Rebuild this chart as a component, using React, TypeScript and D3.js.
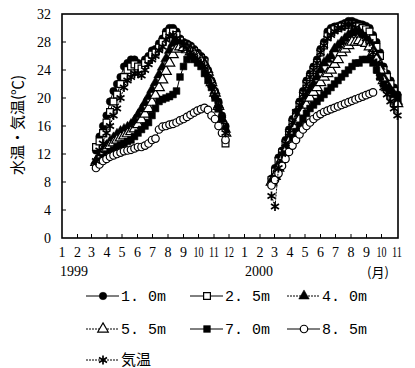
import React, { useEffect, useRef } from 'react'
import * as d3 from 'd3'

// sampling dates (weekly readings)
const dates1999 = [
  '1999-03-10', '1999-03-17', '1999-03-24', '1999-03-31', '1999-04-07', '1999-04-14', '1999-04-21', '1999-04-28',
  '1999-05-05', '1999-05-12', '1999-05-19', '1999-05-26', '1999-06-02', '1999-06-09', '1999-06-16', '1999-06-23',
  '1999-06-30', '1999-07-07', '1999-07-14', '1999-07-21', '1999-07-28', '1999-08-04', '1999-08-11', '1999-08-18',
  '1999-08-25', '1999-09-01', '1999-09-08', '1999-09-15', '1999-09-22', '1999-09-29', '1999-10-06', '1999-10-13',
  '1999-10-20', '1999-10-27', '1999-11-03', '1999-11-10', '1999-11-17', '1999-11-24'
]
const dates2000 = [
  '2000-02-24', '2000-03-02', '2000-03-09', '2000-03-16', '2000-03-23', '2000-03-30', '2000-04-06', '2000-04-13',
  '2000-04-20', '2000-04-27', '2000-05-04', '2000-05-11', '2000-05-18', '2000-05-25', '2000-06-01', '2000-06-08',
  '2000-06-15', '2000-06-22', '2000-06-29', '2000-07-06', '2000-07-13', '2000-07-20', '2000-07-27', '2000-08-03',
  '2000-08-10', '2000-08-17', '2000-08-24', '2000-08-31', '2000-09-07', '2000-09-14', '2000-09-21', '2000-09-28',
  '2000-10-05', '2000-10-12', '2000-10-19', '2000-10-26', '2000-11-02'
]

// water temperature by depth, air temperature (degC)
const w10_1999 = [12.5, 14.5, 16, 17.5, 19.5, 21, 22, 23, 24.5, 25, 25.5, 25.5, 25, 24.8, 25.5, 26, 26.8, 27, 27.8, 28.5,
  29.5, 30, 30, 29.5, 28.5, 28, 27.8, 27.5, 27, 26.5, 26, 25.5, 24, 22.5, 21, 19.5, 17.5, 16]
const w25_1999 = [13, 13.8, 15, 16.5, 18, 19.5, 20.5, 22, 23, 24, 24.5, 24.8, 24.5, 24.2, 25, 25.5, 26.2, 26.5, 27.2, 28,
  29, 29.5, 29.5, 29, 28.2, 27.7, 27.5, 27.2, 26.7, 26.2, 25.7, 25.2, 23.5, 22, 20.5, 18.5, 16, 13.5]
const w40_1999 = [11, 11.8, 12.5, 13.2, 13.8, 14.3, 14.8, 15.2, 15.5, 15.8, 16.2, 16.8, 17.6, 18.4, 19.3, 20.2, 21.2, 22.2, 23.3, 24.4,
  25.6, 26.8, 27.8, 28, 27.8, 27.5, 27.2, 27, 26.6, 26.2, 25.7, 25, 24, 22.5, 21, 19, 17, 15.5]
const w55_1999 = [10.8, 11.5, 12.2, 12.7, 13.2, 13.6, 14, 14.3, 14.6, 14.9, 15.2, 15.6, 16.2, 16.9, 17.7, 18.5, 19.4, 20.4, 21.5, 22.6,
  23.8, 25, 26.2, 27, 27.3, 27.2, 26.9, 26.6, 26.3, 25.9, 25.3, 24.7, 23.7, 22.2, 20.7, 18.8, 16.8, 15]
const w70_1999 = [10.5, 11, 11.5, 12, 12.3, 12.6, 13, 13.3, 13.5, 13.8, 14, 14.5, 15, 15.5, 16, 16.5, 17.5, 18.5, 19.5, 19.8,
  20, 20.2, 20.5, 21, 23, 24.5, 25.5, 26, 25.5, 25, 24.5, 23.5, 22.5, 21.5, 20, 18.5, 17, 15.5]
const w85_1999 = [10, 10.5, 11, 11.3, 11.6, 11.8, 12, 12.2, 12.4, 12.5, 12.6, 12.8, 13, 13, 13.2, 13.5, 14, 14.2, 15.5, 15.9,
  16, 16.2, 16.3, 16.5, 16.8, 17, 17.3, 17.6, 17.9, 18.2, 18.4, 18.6, 18.3, 17.5, 17, 16, 15, 14]
const air_1999 = [11, 12.5, 13.5, 15, 16, 17.5, 18.5, 20, 21.5, 22.5, 23, 23.5, 23.5, 23.2, 24, 24.8, 25.5, 26, 26.8, 27.3,
  28.3, 28.8, 29, 28.5, 28, 27.5, 27, 26.5, 26, 25.5, 25, 24.5, 23.5, 22, 20.5, 19, 17, 15]

const w10_2000 = [8.5, 10, 11.5, 12.5, 14, 15.5, 17, 18, 19.5, 21, 22.5, 23.5, 24.5, 25.5, 27, 28, 29.5, 30, 30.2,
  30.3, 30.5, 30.7, 31, 31, 30.8, 30.6, 30.5, 30.3, 30, 29, 28, 26.5, 24.5, 23.5, 22.5, 21.5, 20.5]
const w25_2000 = [8.3, 9.5, 11, 12.2, 13.5, 15, 16.5, 17.5, 19, 20.5, 22, 23, 24, 25, 26.5, 27.5, 28.8, 29.5, 29.8,
  30, 30.2, 30.4, 30.5, 30.5, 30.3, 30.2, 30, 29.8, 29.5, 28.5, 27.3, 26, 24, 23, 22, 21, 20]
const w40_2000 = [8, 9, 10.5, 11.8, 13, 14.3, 15.5, 16.5, 17.8, 19, 20.2, 21.2, 22, 23, 24, 25, 25.5, 26, 27,
  27.5, 28, 28.5, 29, 29.3, 29.5, 29.5, 29, 28.5, 28, 27, 26, 24.5, 23, 22, 21, 20.5, 19.5]
const w55_2000 = [8, 8.8, 10, 11.3, 12.5, 13.8, 15, 16, 17, 18, 19, 20, 20.8, 21.5, 22.2, 23, 23.5, 24, 24.8,
  25.5, 26.5, 27, 27.5, 28, 28, 28.2, 28, 27.8, 27.3, 26.5, 25.5, 24, 22.5, 21.5, 20.8, 20, 19.2]
const w70_2000 = [7.8, 8.5, 9.5, 10.8, 12, 13.2, 14.3, 15.2, 16, 17, 17.8, 18.5, 19, 19.5, 20, 20.5, 21, 21.5, 22,
  22.5, 23, 23.5, 24, 24.5, 25, 25, 25.5, 25.5, 25.5, 25, 24, 23, 22, 21.5, 21, 20.5, 20]
const w85_2000 = [7.5, 8.3, 9.2, 10.3, 11.3, 12.3, 13.2, 14, 14.8, 15.5, 16, 16.5, 17, 17.4, 17.7, 18, 18.2, 18.4, 18.6,
  18.8, 19, 19.2, 19.4, 19.6, 19.8, 20, 20.2, 20.4, 20.6, 20.8, null, null, null, null, null, null, null]
const air_2000 = [6, 4.5, 10, 12, 13.5, 15, 16.5, 18, 19, 20.5, 22, 23, 24, 25, 26.5, 27.5, 28.5, 29, 29.5,
  30, 30, 30.5, 30.5, 30.5, 30, 29.5, 29, 28.5, 28, 26.5, 25, 23, 21.5, 20.5, 19.5, 18.5, 17.5]

const seriesNames = ['1. 0m', '2. 5m', '4. 0m', '5. 5m', '7. 0m', '8. 5m', '気温']
const monthLabels = ['1', '2', '3', '4', '5', '6', '7', '8', '9', '10', '11', '12',
  '1', '2', '3', '4', '5', '6', '7', '8', '9', '10', '11']
const yTicks = [0, 4, 8, 12, 16, 20, 24, 28, 32]

const parse = d3.timeParse('%Y-%m-%d')

function drawMarker(g: any, kind: string, cx: number, cy: number) {
  if (kind === 'asterisk') {
    g.append('path')
      .attr('d', 'M0,-4.5L0,4.5M-4,-2.4L4,2.4M-4,2.4L4,-2.4')
      .attr('transform', `translate(${cx},${cy})`)
      .attr('stroke', '#000').attr('stroke-width', 1.7).attr('fill', 'none')
    return
  }
  var type = d3.symbolCircle, size = 44, open = false
  if (kind === 'square' || kind === 'squareOpen') { type = d3.symbolSquare; size = 46 }
  if (kind === 'triangle' || kind === 'triangleOpen') { type = d3.symbolTriangle; size = 48 }
  if (kind === 'circleOpen' || kind === 'squareOpen' || kind === 'triangleOpen') open = true
  g.append('path')
    .attr('d', d3.symbol().type(type).size(size)())
    .attr('transform', `translate(${cx},${cy})`)
    .attr('fill', open ? '#fff' : '#000')
    .attr('stroke', '#000')
    .attr('stroke-width', open ? 1.2 : 0.5)
}

export default function App() {
  const ref = useRef<SVGSVGElement>(null)

  useEffect(() => {
    var svg = d3.select(ref.current)
    svg.selectAll('*').remove()

    const left = 62, right = 397, top = 14, bottom = 238

    var x = d3.scaleTime()
      .domain([new Date(1999, 0, 1), new Date(2000, 10, 1)]).range([left, right])
    var y = d3.scaleLinear().domain([0, 32]).range([bottom, top])

    const series = [
      { name: seriesNames[0], v99: w10_1999, v00: w10_2000, marker: 'circle', dash: null },
      { name: seriesNames[1], v99: w25_1999, v00: w25_2000, marker: 'squareOpen', dash: null },
      { name: seriesNames[2], v99: w40_1999, v00: w40_2000, marker: 'triangle', dash: '2,1' },
      { name: seriesNames[3], v99: w55_1999, v00: w55_2000, marker: 'triangleOpen', dash: '2,1' },
      { name: seriesNames[4], v99: w70_1999, v00: w70_2000, marker: 'square', dash: null },
      { name: seriesNames[5], v99: w85_1999, v00: w85_2000, marker: 'circleOpen', dash: null },
      { name: seriesNames[6], v99: air_1999, v00: air_2000, marker: 'asterisk', dash: '2,1' },
    ]

    var line = d3.line<any>()
      .defined(d => d.v != null)
      .x(d => x(d.t)).y(d => y(d.v))

    // data
    var plot = svg.append('g').attr('class', 'plot')
    series.forEach(s => {
      var segs = [
        dates1999.map((d, i) => ({ t: parse(d), v: s.v99[i] })),
        dates2000.map((d, i) => ({ t: parse(d), v: s.v00[i] })),
      ]
      segs.forEach(pts => {
        plot.append('path').attr('d', line(pts))
          .attr('fill', 'none').attr('stroke', '#000').attr('stroke-width', 1)
          .attr('stroke-dasharray', s.dash)
        pts.filter(p => p.v != null).forEach(p => drawMarker(plot, s.marker, x(p.t), y(p.v)))
      })
    })

    // frame
    svg.append('rect')
      .attr('x', left).attr('y', top).attr('width', right - left + 1).attr('height', bottom - top)
      .attr('fill', 'none').attr('stroke', '#000').attr('stroke-width', 1.6)

    // y axis
    var yg = svg.append('g').attr('font-family', '"Liberation Serif", serif').attr('font-size', 14)
    yTicks.forEach(t => {
      yg.append('text').attr('x', 51).attr('y', y(t)).attr('dy', '0.35em')
        .attr('text-anchor', 'end').text(t)
      if (t > 0 && t < 32) {
        yg.append('line').attr('x1', left).attr('x2', left + 4).attr('y1', y(t)).attr('y2', y(t))
          .attr('stroke', '#000').attr('stroke-width', 1)
      }
    })

    // x axis
    var months = d3.timeMonth.range(new Date(1999, 0, 1), new Date(2000, 10, 2))
    var xg = svg.append('g').attr('font-family', '"Liberation Serif", serif').attr('font-size', 14)
    months.forEach((m, i) => {
      xg.append('text').attr('x', x(m)).attr('y', 257)
        .attr('text-anchor', 'middle').attr('textLength', monthLabels[i].length > 1 ? 10 : null)
        .attr('lengthAdjust', 'spacingAndGlyphs')
        .text(monthLabels[i])
      if (i > 0 && i < months.length - 1) {
        xg.append('line').attr('x1', x(m)).attr('x2', x(m)).attr('y1', bottom).attr('y2', bottom - 4)
          .attr('stroke', '#000').attr('stroke-width', 1)
      }
    })
    xg.append('text').attr('x', 60).attr('y', 276).text('1999')
    xg.append('text').attr('x', 245).attr('y', 276).text('2000')
    xg.append('text').attr('x', 367).attr('y', 277)
      .attr('font-family', '"Noto Sans CJK JP", sans-serif').attr('font-size', 13).text('(月)')

    // y label
    svg.append('text')
      .attr('transform', 'translate(23,125) rotate(-90)')
      .attr('text-anchor', 'middle')
      .attr('font-family', '"Noto Sans CJK JP", sans-serif').attr('font-size', 15)
      .text('水温・気温(℃)')

    // legend
    var lg = svg.append('g')
    var cols = [86, 190, 287], rows = [296, 329, 360]
    series.forEach((s, i) => {
      var lx = cols[i % 3], ly = rows[Math.floor(i / 3)]
      lg.append('line').attr('x1', lx).attr('x2', lx + 33).attr('y1', ly).attr('y2', ly)
        .attr('stroke', '#000').attr('stroke-width', 1).attr('stroke-dasharray', s.dash)
      drawMarker(lg, s.marker, lx + 17, ly)
      var isJa = s.name === '気温'
      lg.append('text').attr('x', lx + 35).attr('y', ly).attr('dy', '0.36em')
        .attr('font-family', isJa ? '"Noto Sans CJK JP", sans-serif' : '"Liberation Mono", monospace')
        .attr('font-size', isJa ? 15 : 15).attr('letter-spacing', 0)
        .style('white-space', 'pre')
        .text(s.name)
    })
  }, [])

  return (
    <svg ref={ref} width={415} height={368}
      style={{ position: 'absolute', left: 0, top: 0, background: '#fff' }} />
  )
}
